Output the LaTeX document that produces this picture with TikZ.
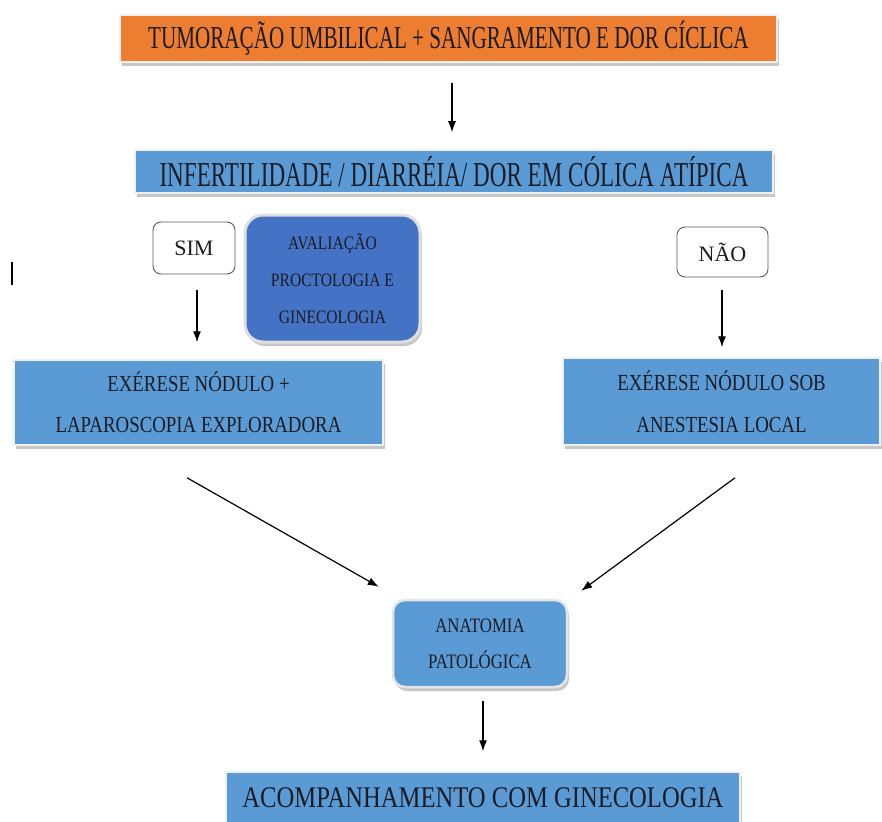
\documentclass[tikz,border=0pt]{standalone}
\usepackage{fontspec}
\setmainfont{Liberation Serif}
\newfontfamily\condfont{Liberation Serif}[FakeStretch=0.66]
\newfontfamily\midfont{Liberation Serif}[FakeStretch=0.82]
\usetikzlibrary{arrows.meta,shadows}

\definecolor{orangefill}{HTML}{ED7D31}
\definecolor{bluefill}{HTML}{5B9BD5}
\definecolor{darkbluefill}{HTML}{4472C4}
\definecolor{inkcol}{HTML}{1C1C24}

\begin{document}
\begin{tikzpicture}[x=1pt, y=-1pt, >=Latex,
  box/.style={draw=gray!12, line width=1.5pt, inner sep=0pt, align=center, text=inkcol,
    drop shadow={shadow xshift=2pt, shadow yshift=-4pt, fill=gray!55, opacity=0.8}},
  roundbox/.style={box, rounded corners=14pt},
  answer/.style={draw=gray!70!black, line width=0.9pt, rounded corners=8pt, fill=white,
    inner sep=0pt, text=inkcol, font=\fontsize{22}{22}\selectfont},
  arr/.style={->, line width=1.2pt, >={Latex[length=11pt,width=8pt]}}]

  \useasboundingbox (0,0) rectangle (882,821);
  \fill[white] (0,0) rectangle (882,821);

  \node[box, fill=orangefill, minimum width=657pt, minimum height=47pt,
    font=\condfont\fontsize{32}{32}\selectfont] (tumor) at (448.5,38.5)
    {TUMORAÇÃO UMBILICAL + SANGRAMENTO E DOR CÍCLICA};

  \node[box, fill=bluefill, minimum width=638pt, minimum height=43pt,
    font=\condfont\fontsize{35}{35}\selectfont] (infert) at (454,171.5)
    {INFERTILIDADE / DIARRÉIA/ DOR EM CÓLICA ATÍPICA};

  \node[answer, minimum width=82pt, minimum height=52pt] (sim) at (194,248) {SIM};
  \node[answer, minimum width=91pt, minimum height=50pt] (nao) at (722.5,252) {NÃO};

  \node[roundbox, fill=darkbluefill, rounded corners=18pt, draw=gray!25, line width=3pt,
    minimum width=175pt, minimum height=127pt,
    font=\midfont\fontsize{19}{37}\selectfont] (aval) at (332.5,278.5)
    {AVALIAÇÃO\\PROCTOLOGIA E\\GINECOLOGIA};

  \node[box, fill=bluefill, minimum width=369pt, minimum height=85pt,
    font=\midfont\fontsize{23}{41}\selectfont] (exlap) at (198.5,402.5)
    {EXÉRESE NÓDULO +\\LAPAROSCOPIA EXPLORADORA};

  \node[box, fill=bluefill, minimum width=317pt, minimum height=87pt,
    font=\midfont\fontsize{23}{42}\selectfont] (exanest) at (721.5,401.5)
    {EXÉRESE NÓDULO SOB\\ANESTESIA LOCAL};

  \node[roundbox, fill=bluefill, rounded corners=12pt, draw=gray!20, line width=2.5pt,
    minimum width=174pt, minimum height=87pt,
    font=\midfont\fontsize{20.5}{36}\selectfont] (anat) at (480,643.5)
    {ANATOMIA\\PATOLÓGICA};

  \node[box, fill=bluefill, minimum width=514pt, minimum height=52pt,
    font=\midfont\fontsize{30}{30}\selectfont] (acomp) at (483,798)
    {ACOMPANHAMENTO COM GINECOLOGIA};

  % setas
  \draw[arr, shorten <=20pt, shorten >=17pt] ([xshift=3.5pt]tumor.south) -- ([xshift=-2pt]infert.north);
  \draw[arr, shorten <=16pt, shorten >=17pt] ([xshift=3pt]sim.south) -- ([xshift=-1.5pt]exlap.north);
  \draw[arr, shorten <=13pt, shorten >=10pt] ([xshift=-0.5pt]nao.south) -- ([xshift=0.5pt]exanest.north);
  \draw[arr] ([xshift=-11.5pt,yshift=-32pt]exlap.south) -- ([xshift=-13pt,yshift=12pt]anat.north west);
  \draw[arr] ([xshift=13.5pt,yshift=-32pt]exanest.south) -- ([xshift=13pt,yshift=8pt]anat.north east);
  \draw[arr, shorten <=13pt, shorten >=20pt] ([xshift=3pt]anat.south) -- (acomp.north);

  \draw[line width=1.2pt] (12,262) -- (12,285);

\end{tikzpicture}
\end{document}
